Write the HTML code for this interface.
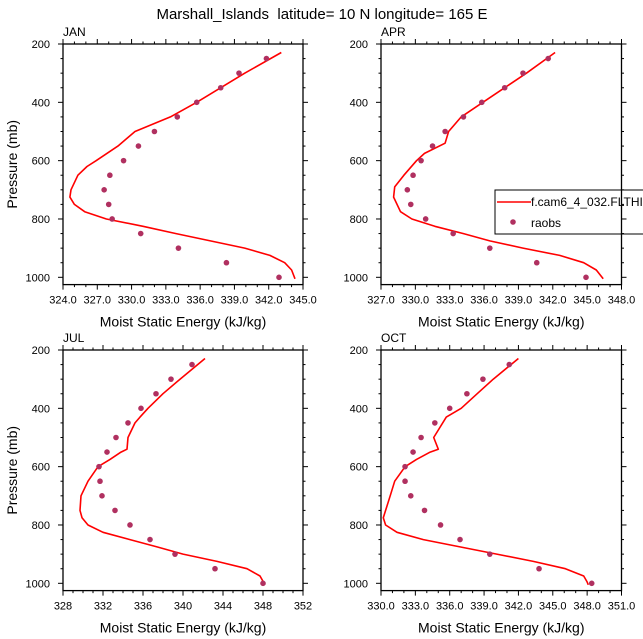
<!DOCTYPE html>
<html><head><meta charset="utf-8"><style>
html,body{margin:0;padding:0;background:#fff;}
svg{display:block;font-family:"Liberation Sans",Arial,sans-serif;}
</style></head><body>
<svg id="chart" width="643" height="639" viewBox="0 0 643 639" xmlns="http://www.w3.org/2000/svg">
<text x="322" y="19" font-size="15" text-anchor="middle">Marshall_Islands&#160; latitude= 10 N longitude= 165 E</text>
</svg>
<script>
// ---- data ----
const panelNames = ["JAN","APR","JUL","OCT"];
const xMins = [324, 327, 328, 330];
const xMaxs = [345, 348, 352, 351];
const xMajorSteps = [3, 3, 4, 3];
const xDecimals = [1, 1, 0, 1];
const yTicks = [200, 400, 600, 800, 1000];
const obsP = [250,300,350,400,450,500,550,600,650,700,750,800,850,900,950,1000];
const janObs = [341.8,339.4,337.8,335.7,334.0,332.0,330.6,329.3,328.1,327.6,328.0,328.3,330.8,334.1,338.3,342.9];
const aprObs = [341.6,339.4,337.8,335.8,334.2,332.6,331.5,330.5,329.8,329.3,329.6,330.9,333.3,336.5,340.6,344.9];
const julObs = [340.9,338.8,337.3,335.8,334.5,333.3,332.4,331.6,331.7,331.9,333.2,334.7,336.7,339.2,343.2,348.0];
const octObs = [341.2,338.9,337.5,336.0,334.7,333.5,332.8,332.1,332.1,332.6,333.8,335.2,336.9,339.5,343.8,348.4];
const janModP = [229,300,400,450,500,550,600,620,650,700,725,750,775,800,825,850,875,900,925,950,975,1005];
const janMod = [343.1,339.9,335.7,333.4,330.3,328.8,326.9,326.1,325.3,324.7,324.6,325.0,325.9,327.8,331.0,333.9,336.9,339.9,342.1,343.4,344.0,344.3];
const aprModP = [229,300,350,400,450,500,540,575,600,650,690,725,775,800,825,850,875,900,925,950,975,1005];
const aprMod = [342.2,339.7,337.8,335.9,334.0,332.9,332.6,330.8,330.1,329.0,328.2,328.1,328.7,329.7,331.7,334.2,336.5,339.4,342.6,344.7,345.8,346.4];
const julModP = [229,300,350,400,430,450,500,540,550,575,600,650,700,750,775,800,825,850,875,900,925,950,975,1005];
const julMod = [342.2,339.7,338.0,336.5,335.7,335.2,334.5,334.4,333.8,332.7,331.5,330.5,329.8,329.7,329.9,330.5,332.0,334.7,337.4,340.0,343.4,346.4,347.7,348.2];
const octModP = [229,300,350,400,430,500,540,550,575,600,650,700,750,775,800,825,850,875,900,925,950,975,995,1005];
const octMod = [342.0,339.8,338.4,337.0,335.7,334.6,335.0,334.3,333.1,332.1,331.2,330.8,330.4,330.2,330.4,331.4,333.7,336.9,340.1,343.3,346.1,347.7,348.0,348.1];
const obsSeries = [janObs, aprObs, julObs, octObs];
const modP = [janModP, aprModP, julModP, octModP];
const modSeries = [janMod, aprMod, julMod, octMod];

const NS = "http://www.w3.org/2000/svg";
const svg = document.getElementById("chart");
const boxes = [[63,44,303,284.6],[381,44,621.5,284.6],[63,350,303,590.6],[381,350,621.5,590.6]];
const P0 = 200, P1 = 1025;
function mk(tag, attrs, parent){const e=document.createElementNS(NS,tag);for(const k in attrs)e.setAttribute(k,attrs[k]);(parent||svg).appendChild(e);return e;}

for (let i=0;i<4;i++){
  const [L,T,R,B] = boxes[i];
  const g = mk("g",{});
  
  
  const xs = v => L + (v - xMins[i])/(xMaxs[i]-xMins[i])*(R-L);
  const ys = p => T + (p - P0)/(P1-P0)*(B-T);
  for (let p=200;p<=1000;p+=50){
    const major = p%200===0, len = major?5:2.5;
    mk("line",{x1:L-len,x2:L,y1:ys(p),y2:ys(p),stroke:"#000","stroke-width":1},g);
    mk("line",{x1:R,x2:R+len,y1:ys(p),y2:ys(p),stroke:"#000","stroke-width":1},g);
  }
  for (let v=xMins[i]; v<=xMaxs[i]+1e-9; v+=1){
    const major = ((v-xMins[i])%xMajorSteps[i])===0, len = major?5:2.5;
    mk("line",{x1:xs(v),x2:xs(v),y1:B,y2:B+len,stroke:"#000","stroke-width":1},g);
    mk("line",{x1:xs(v),x2:xs(v),y1:T-len,y2:T,stroke:"#000","stroke-width":1},g);
    if (major){
      const t = mk("text",{x:xs(v),y:B+19,"font-size":11,"text-anchor":"middle"},g);
      
      
      t.textContent = v.toFixed(xDecimals[i]);
    }
  }
  for (const p of yTicks){
    const t = mk("text",{x:L-13,y:ys(p)+4,"font-size":11,"text-anchor":"end"},g);
    
    
    t.textContent = p;
  }
  const frame = mk("rect",{x:L,y:T,width:R-L,height:B-T,fill:"none",stroke:"#000","stroke-width":1.3},g);
  
  
  const pts = modSeries[i].map((v,k)=>xs(v).toFixed(1)+","+ys(modP[i][k]).toFixed(1)).join(" ");
  const pl = mk("polyline",{points:pts,fill:"none",stroke:"#ff0000","stroke-width":1.6,"stroke-linejoin":"round"},g);
  
  
  obsSeries[i].forEach((v,k)=>{
    const c = mk("circle",{cx:xs(v),cy:ys(obsP[k]),r:2.8,fill:"#b03060"},g);
    
    
  });
  const lab = mk("text",{x:L,y:T-8,"font-size":12},g);
  
  
  lab.textContent = panelNames[i];
  const xt = mk("text",{x:(L+R)/2,y:B+42,"font-size":14,"text-anchor":"middle"},g);
  
  
  xt.textContent = "Moist Static Energy (kJ/kg)";
  if (i%2===0){
    const yt = mk("text",{x:0,y:0,"font-size":14,"text-anchor":"middle",transform:"translate(17,"+((T+B)/2)+") rotate(-90)"},g);
    
    
    yt.textContent = "Pressure (mb)";
  }
}
const lg = mk("g",{});


mk("rect",{x:495,y:190,width:160,height:44,fill:"none",stroke:"#000","stroke-width":1},lg);
mk("line",{x1:497,x2:531,y1:202,y2:202,stroke:"#ff0000","stroke-width":1.6},lg);
const lt1 = mk("text",{x:531,y:206,"font-size":12},lg);


lt1.textContent = "f.cam6_4_032.FLTHIST";
mk("circle",{cx:513,cy:222,r:2.8,fill:"#b03060"},lg);
const lt2 = mk("text",{x:531,y:227,"font-size":12},lg);


lt2.textContent = "raobs";
</script>
</body></html>
